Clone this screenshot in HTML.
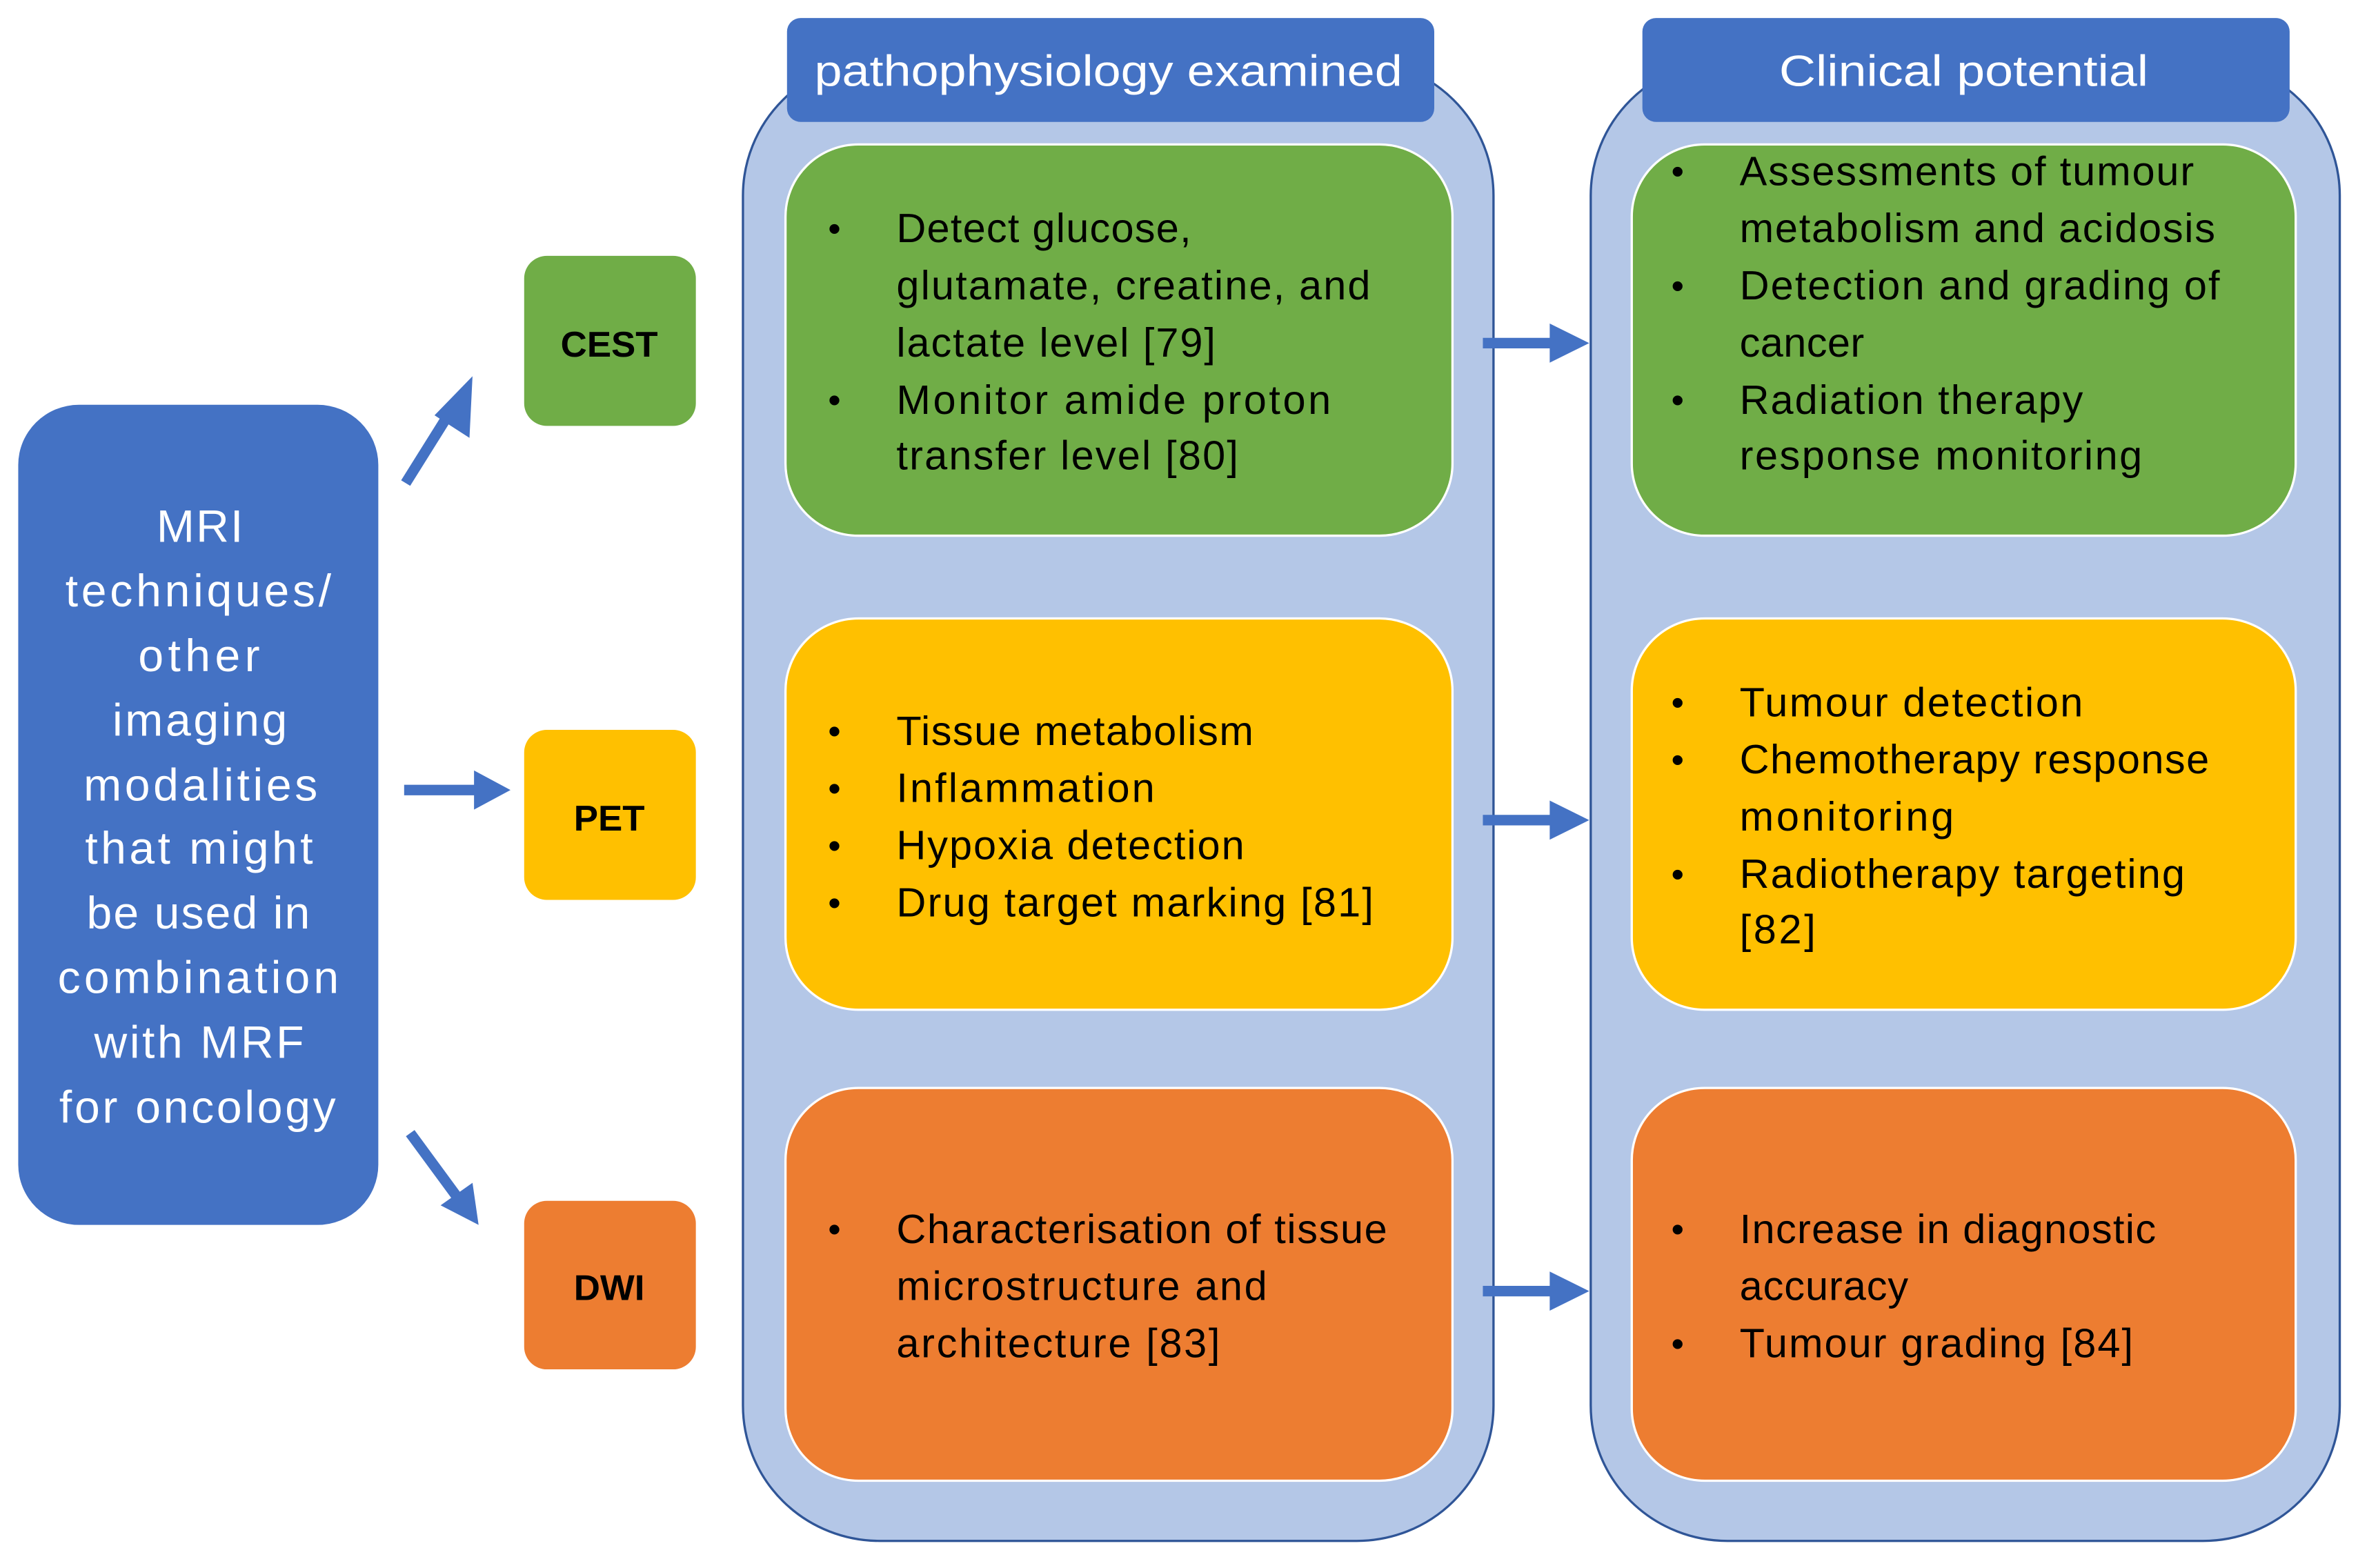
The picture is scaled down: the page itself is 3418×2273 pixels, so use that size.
<!DOCTYPE html>
<html><head><meta charset="utf-8"><style>html,body{margin:0;padding:0;background:#fff}svg{display:block}</style></head>
<body>
<svg width="3418" height="2273" viewBox="0 0 1552 1042" preserveAspectRatio="none" xmlns="http://www.w3.org/2000/svg" font-family="'Liberation Sans', sans-serif">
<rect width="1552" height="1042" fill="#fff"/>
<!-- containers -->
<rect x="489" y="40" width="494" height="984" rx="90" fill="#B4C7E7" stroke="#2F5597" stroke-width="1.5"/>
<rect x="1047" y="40" width="493" height="984" rx="90" fill="#B4C7E7" stroke="#2F5597" stroke-width="1.5"/>
<rect x="518" y="12" width="426" height="69" rx="9" fill="#4472C4"/>
<rect x="1081" y="12" width="426" height="69" rx="9" fill="#4472C4"/>
<text x="536" y="57" font-size="29" fill="#fff" textLength="387" lengthAdjust="spacingAndGlyphs">pathophysiology examined</text>
<text x="1171" y="57" font-size="29" fill="#fff" textLength="243" lengthAdjust="spacingAndGlyphs">Clinical potential</text>
<!-- inner boxes -->
<g stroke="#fff" stroke-width="1.5">
<rect x="517" y="96" width="439" height="260" rx="48" fill="#70AD47"/>
<rect x="1074" y="96" width="437" height="260" rx="48" fill="#70AD47"/>
<rect x="517" y="411" width="439" height="260" rx="48" fill="#FFC000"/>
<rect x="1074" y="411" width="437" height="260" rx="48" fill="#FFC000"/>
<rect x="517" y="723" width="439" height="261" rx="48" fill="#ED7D31"/>
<rect x="1074" y="723" width="437" height="261" rx="48" fill="#ED7D31"/>
</g>
<!-- left -->
<rect x="12" y="269" width="237" height="545" rx="40" fill="#4472C4"/>
<g font-size="30" fill="#fff" lengthAdjust="spacingAndGlyphs">
<text x="103" y="360" textLength="57">MRI</text>
<text x="43" y="403" textLength="175">techniques/</text>
<text x="91" y="446" textLength="80">other</text>
<text x="74" y="489" textLength="115">imaging</text>
<text x="55" y="532" textLength="154">modalities</text>
<text x="56" y="574" textLength="150">that might</text>
<text x="57" y="617" textLength="147">be used in</text>
<text x="38" y="660" textLength="185">combination</text>
<text x="62" y="703" textLength="138">with MRF</text>
<text x="39" y="746" textLength="182">for oncology</text>
</g>
<rect x="345" y="170" width="113" height="113" rx="15" fill="#70AD47"/>
<rect x="345" y="485" width="113" height="113" rx="15" fill="#FFC000"/>
<rect x="345" y="798" width="113" height="112" rx="15" fill="#ED7D31"/>
<g font-size="24" font-weight="bold" fill="#000" text-anchor="middle">
<text x="401" y="237">CEST</text>
<text x="401" y="552">PET</text>
<text x="401" y="864">DWI</text>
</g>
<!-- arrows -->
<g stroke="#4472C4" stroke-width="7" fill="#4472C4">
<line x1="267" y1="321" x2="298" y2="271"/>
<line x1="266" y1="525" x2="318" y2="525"/>
<line x1="270" y1="753" x2="302" y2="797"/>
<line x1="976" y1="228" x2="1026" y2="228"/>
<line x1="976" y1="545" x2="1026" y2="545"/>
<line x1="976" y1="858" x2="1026" y2="858"/>
</g>
<g fill="#4472C4">
<polygon points="311,250 309,291 286,276"/>
<polygon points="336,525 312,512 312,538"/>
<polygon points="315,814 290,801 311,786"/>
<polygon points="1046,228 1020,215 1020,241"/>
<polygon points="1046,545 1020,532 1020,558"/>
<polygon points="1046,858 1020,845 1020,871"/>
</g>
<!-- texts -->
<g font-size="27" fill="#000" lengthAdjust="spacingAndGlyphs">
<g font-size="24"><text x="545" y="160">•</text><text x="545" y="274">•</text>
<text x="545" y="494">•</text><text x="545" y="532">•</text><text x="545" y="570">•</text><text x="545" y="608">•</text>
<text x="545" y="825">•</text>
<text x="1100" y="122">•</text><text x="1100" y="198">•</text><text x="1100" y="274">•</text>
<text x="1100" y="475">•</text><text x="1100" y="513">•</text><text x="1100" y="589">•</text>
<text x="1100" y="825">•</text><text x="1100" y="901">•</text></g>
<text x="590" y="161" textLength="194">Detect glucose,</text>
<text x="590" y="199" textLength="312">glutamate, creatine, and</text>
<text x="590" y="237" textLength="210">lactate level [79]</text>
<text x="590" y="275" textLength="286">Monitor amide proton</text>
<text x="590" y="312" textLength="225">transfer level [80]</text>
<text x="590" y="495" textLength="235">Tissue metabolism</text>
<text x="590" y="533" textLength="170">Inflammation</text>
<text x="590" y="571" textLength="229">Hypoxia detection</text>
<text x="590" y="609" textLength="314">Drug target marking [81]</text>
<text x="590" y="826" textLength="323">Characterisation of tissue</text>
<text x="590" y="864" textLength="244">microstructure and</text>
<text x="590" y="902" textLength="213">architecture [83]</text>
<text x="1145" y="123" textLength="299">Assessments of tumour</text>
<text x="1145" y="161" textLength="313">metabolism and acidosis</text>
<text x="1145" y="199" textLength="316">Detection and grading of</text>
<text x="1145" y="237" textLength="82">cancer</text>
<text x="1145" y="275" textLength="226">Radiation therapy</text>
<text x="1145" y="312" textLength="265">response monitoring</text>
<text x="1145" y="476" textLength="226">Tumour detection</text>
<text x="1145" y="514" textLength="309">Chemotherapy response</text>
<text x="1145" y="552" textLength="141">monitoring</text>
<text x="1145" y="590" textLength="293">Radiotherapy targeting</text>
<text x="1145" y="627" textLength="50">[82]</text>
<text x="1145" y="826" textLength="274">Increase in diagnostic</text>
<text x="1145" y="864" textLength="111">accuracy</text>
<text x="1145" y="902" textLength="259">Tumour grading [84]</text>
</g>
</svg>
</body></html>
